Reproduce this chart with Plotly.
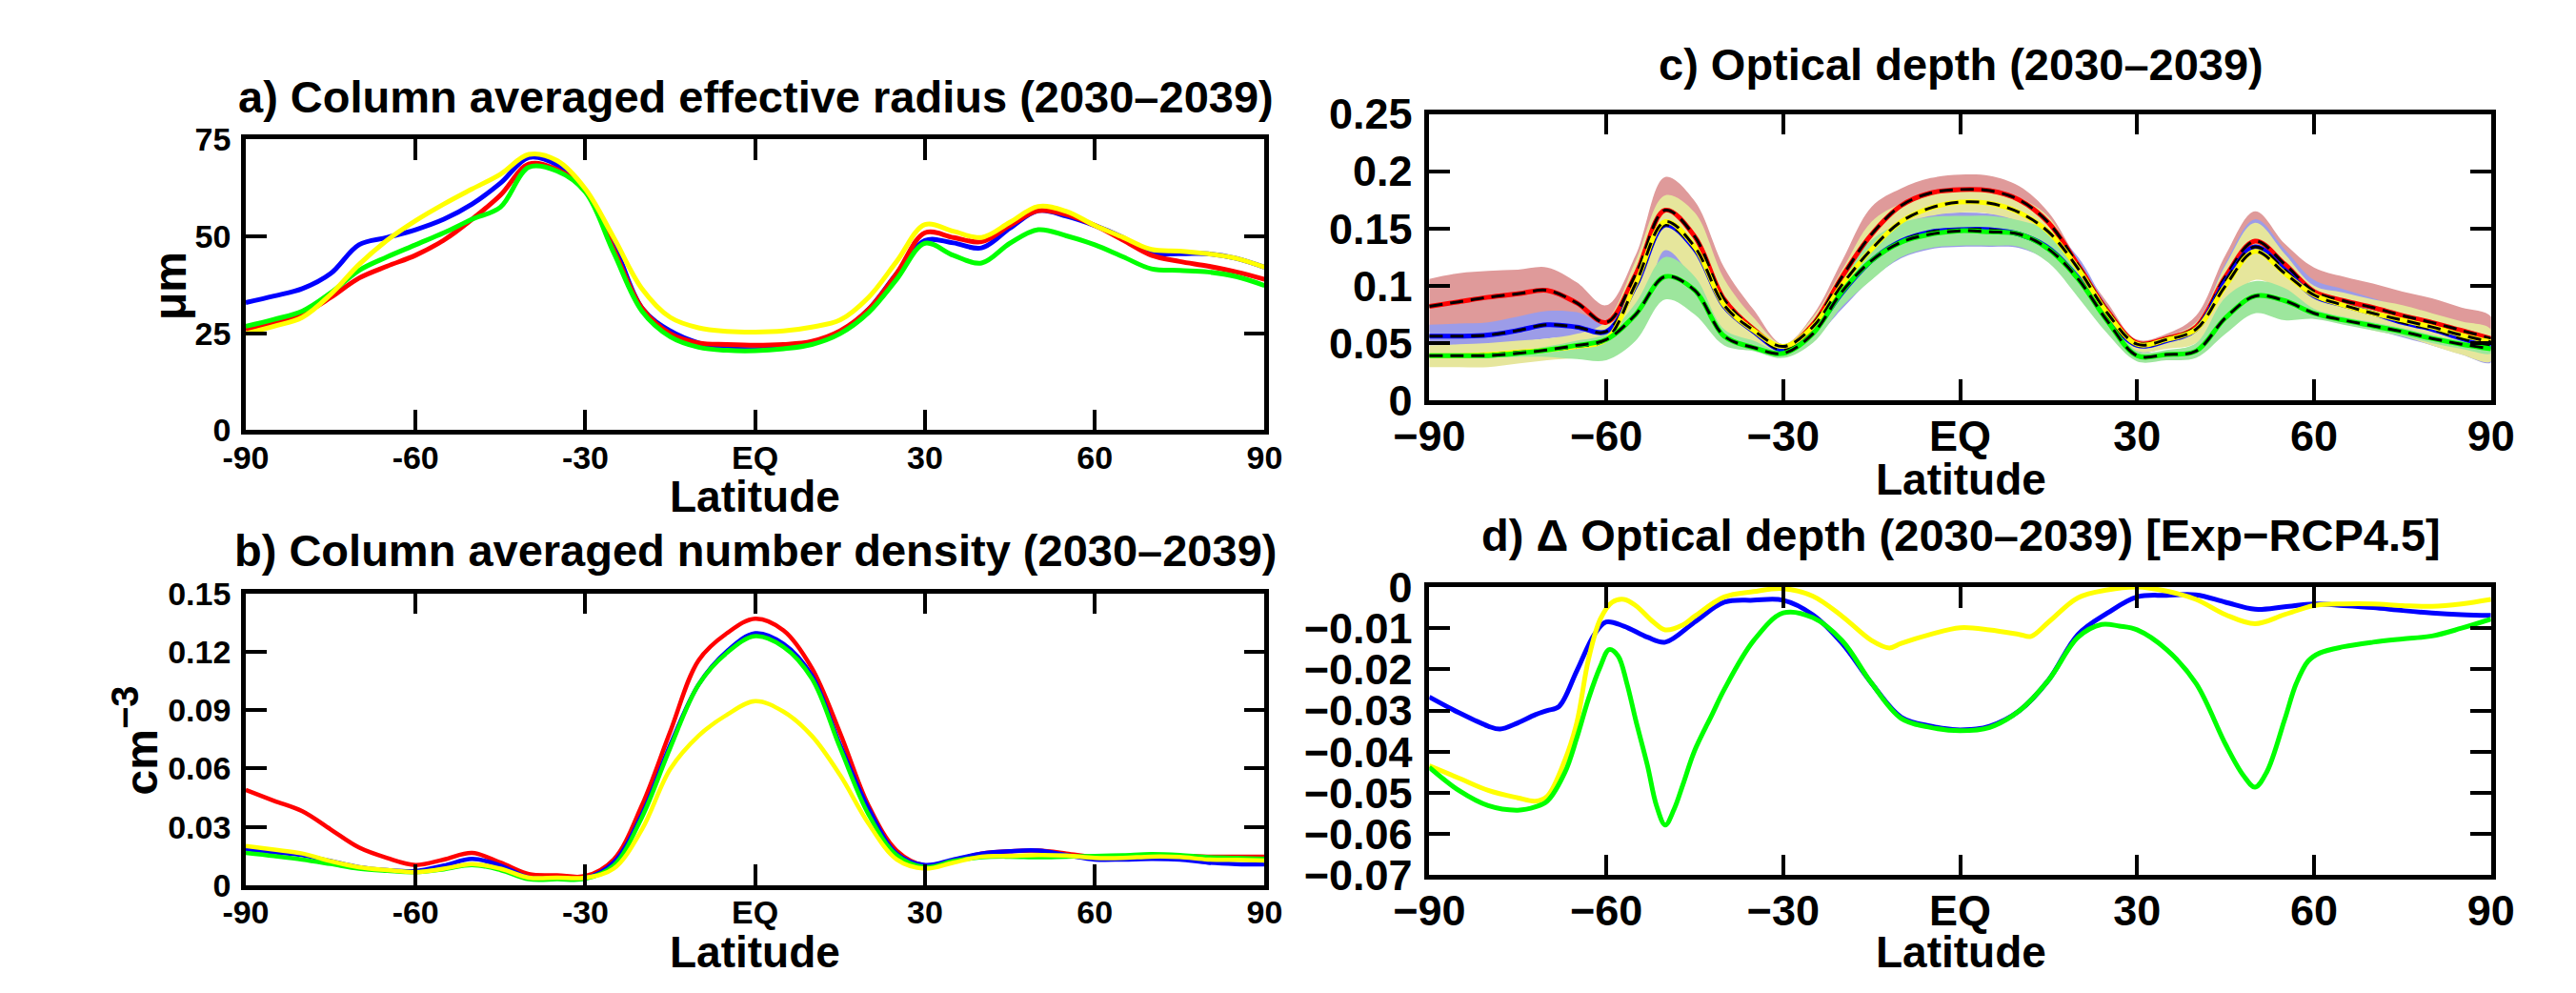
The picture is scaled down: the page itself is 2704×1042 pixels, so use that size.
import plotly.graph_objects as go

W, H = 2704, 1042
FONT = "Liberation Sans, Arial, Helvetica, sans-serif"

# ---------------- data ----------------
lat = [-90, -85, -80, -75, -70, -65, -60, -55, -50, -45, -40, -35, -30, -25, -20, -15, -10, -5, 0,
       5, 10, 15, 20, 25, 30, 35, 40, 45, 50, 55, 60, 65, 70, 75, 80, 85, 90]

xtick_vals = [-90, -60, -30, 0, 30, 60, 90]
xtick_text_ab = ["-90", "-60", "-30", "EQ", "30", "60", "90"]
xtick_text_cd = ["\u221290", "\u221260", "\u221230", "EQ", "30", "60", "90"]

# a) column averaged effective radius (um)
reff_blue = [32.9, 34.6, 36.5, 40.4, 47.8, 49.7, 51.7, 54.4, 58.3, 63.7, 70.3, 68.4, 61.8, 48.2, 31.5, 25.6, 22.5, 21.1, 20.8,
             21.4, 22.5, 25.3, 31.1, 40.4, 48.9, 48.3, 47.0, 52.1, 56.6, 55.2, 52.8, 49.7, 45.8, 45.5, 45.5, 44.3, 42.0]
reff_red = [26.0, 27.8, 29.9, 34.2, 39.2, 42.3, 45.1, 49.0, 54.4, 60.6, 68.6, 67.2, 61.8, 46.6, 31.5, 24.9, 22.5, 22.1, 21.9,
            22.1, 22.9, 25.6, 31.1, 40.4, 50.9, 49.7, 48.6, 52.8, 56.6, 55.6, 52.8, 49.0, 45.1, 43.5, 42.3, 40.8, 38.9]
reff_green = [26.8, 28.6, 30.7, 35.4, 41.2, 44.7, 47.8, 50.9, 54.4, 57.5, 67.8, 66.8, 61.4, 45.8, 30.7, 24.1, 21.4, 20.6, 20.5,
              21.0, 22.1, 24.9, 30.3, 38.9, 48.2, 45.1, 43.1, 48.2, 51.7, 50.1, 47.8, 44.7, 41.6, 41.2, 40.8, 39.6, 37.3]
reff_yellow = [24.9, 26.8, 29.1, 35.0, 42.7, 49.0, 54.0, 58.3, 62.2, 66.0, 71.1, 69.5, 62.2, 49.7, 36.5, 29.1, 26.4, 25.5, 25.3,
               25.6, 26.6, 28.4, 34.2, 43.5, 53.0, 51.3, 49.7, 53.6, 57.7, 56.4, 52.8, 49.7, 46.6, 46.2, 45.5, 44.3, 42.0]

# b) column averaged number density (cm^-3)
nd_red = [0.0490, 0.0434, 0.0380, 0.0287, 0.0194, 0.0140, 0.0104, 0.0132, 0.0166, 0.0116, 0.0057, 0.0051, 0.0047, 0.0132,
          0.0411, 0.0790, 0.1156, 0.1295, 0.1370, 0.1310, 0.1117, 0.0783, 0.0411, 0.0178, 0.0101, 0.0124, 0.0163, 0.0175,
          0.0178, 0.0163, 0.0144, 0.0147, 0.0150, 0.0150, 0.0147, 0.0147, 0.0147]
nd_blue = [0.0186, 0.0170, 0.0155, 0.0124, 0.0093, 0.0078, 0.0073, 0.0101, 0.0135, 0.0101, 0.0039, 0.0036, 0.0036, 0.0116,
           0.0365, 0.0721, 0.1031, 0.1202, 0.1295, 0.1241, 0.1078, 0.0721, 0.0396, 0.0163, 0.0104, 0.0132, 0.0163, 0.0175,
           0.0178, 0.0155, 0.0132, 0.0132, 0.0135, 0.0132, 0.0116, 0.0109, 0.0107]
nd_green = [0.0166, 0.0150, 0.0132, 0.0109, 0.0085, 0.0074, 0.0067, 0.0082, 0.0104, 0.0078, 0.0031, 0.0031, 0.0033, 0.0101,
            0.0349, 0.0706, 0.1031, 0.1194, 0.1280, 0.1225, 0.1063, 0.0706, 0.0365, 0.0155, 0.0093, 0.0124, 0.0144, 0.0147,
            0.0144, 0.0147, 0.0150, 0.0154, 0.0160, 0.0155, 0.0144, 0.0140, 0.0135]
nd_yellow = [0.0202, 0.0183, 0.0163, 0.0124, 0.0093, 0.0078, 0.0067, 0.0085, 0.0109, 0.0085, 0.0039, 0.0039, 0.0039, 0.0085,
             0.0287, 0.0597, 0.0768, 0.0876, 0.0946, 0.0892, 0.0768, 0.0566, 0.0318, 0.0132, 0.0085, 0.0116, 0.0147, 0.0150,
             0.0155, 0.0152, 0.0140, 0.0140, 0.0147, 0.0145, 0.0132, 0.0130, 0.0127]

# c) optical depth: means and spread bands
od_red = [0.082, 0.086, 0.090, 0.093, 0.096, 0.085, 0.068, 0.110, 0.166, 0.143, 0.088, 0.062, 0.046, 0.066, 0.108, 0.145,
          0.170, 0.181, 0.184, 0.183, 0.175, 0.155, 0.118, 0.078, 0.050, 0.054, 0.064, 0.108, 0.139, 0.119, 0.095, 0.087,
          0.081, 0.074, 0.068, 0.061, 0.054]
od_blue = [0.056, 0.056, 0.057, 0.061, 0.066, 0.064, 0.060, 0.100, 0.153, 0.132, 0.082, 0.060, 0.044, 0.060, 0.094, 0.122,
           0.139, 0.147, 0.149, 0.149, 0.145, 0.133, 0.107, 0.072, 0.048, 0.052, 0.062, 0.104, 0.134, 0.114, 0.091, 0.083,
           0.076, 0.068, 0.062, 0.054, 0.047]
od_yellow = [0.039, 0.039, 0.040, 0.042, 0.044, 0.047, 0.053, 0.102, 0.156, 0.134, 0.083, 0.061, 0.047, 0.064, 0.101, 0.132,
             0.156, 0.168, 0.173, 0.172, 0.164, 0.147, 0.115, 0.076, 0.049, 0.053, 0.062, 0.100, 0.130, 0.111, 0.092, 0.083,
             0.076, 0.070, 0.064, 0.057, 0.051]
od_green = [0.039, 0.039, 0.039, 0.041, 0.044, 0.048, 0.053, 0.075, 0.108, 0.096, 0.056, 0.046, 0.041, 0.058, 0.095, 0.122,
            0.138, 0.145, 0.148, 0.147, 0.145, 0.132, 0.106, 0.069, 0.039, 0.040, 0.043, 0.072, 0.091, 0.087, 0.076, 0.070,
            0.065, 0.060, 0.054, 0.049, 0.045]

od_red_hi = [0.106, 0.111, 0.113, 0.114, 0.116, 0.103, 0.083, 0.127, 0.195, 0.174, 0.116, 0.079, 0.049, 0.074, 0.122, 0.169,
             0.185, 0.194, 0.197, 0.196, 0.187, 0.164, 0.122, 0.085, 0.053, 0.058, 0.074, 0.127, 0.165, 0.137, 0.116, 0.108,
             0.102, 0.095, 0.089, 0.081, 0.073]
od_red_lo = [0.060, 0.063, 0.066, 0.070, 0.072, 0.068, 0.058, 0.085, 0.135, 0.115, 0.068, 0.050, 0.043, 0.058, 0.092, 0.125,
             0.150, 0.163, 0.166, 0.165, 0.160, 0.142, 0.108, 0.070, 0.046, 0.049, 0.056, 0.088, 0.112, 0.100, 0.080, 0.072,
             0.066, 0.060, 0.054, 0.048, 0.042]
od_blue_hi = [0.066, 0.067, 0.068, 0.073, 0.078, 0.077, 0.069, 0.112, 0.165, 0.148, 0.095, 0.068, 0.047, 0.068, 0.105, 0.138,
              0.155, 0.162, 0.164, 0.163, 0.160, 0.150, 0.125, 0.082, 0.052, 0.056, 0.068, 0.120, 0.158, 0.132, 0.105, 0.097,
              0.089, 0.081, 0.074, 0.067, 0.060]
od_blue_lo = [0.048, 0.048, 0.049, 0.051, 0.054, 0.055, 0.052, 0.078, 0.122, 0.108, 0.066, 0.050, 0.040, 0.053, 0.080, 0.106,
              0.124, 0.132, 0.134, 0.134, 0.133, 0.122, 0.100, 0.064, 0.042, 0.046, 0.054, 0.085, 0.110, 0.095, 0.078, 0.069,
              0.062, 0.055, 0.048, 0.040, 0.033]
od_yellow_hi = [0.048, 0.049, 0.050, 0.052, 0.054, 0.058, 0.069, 0.122, 0.179, 0.164, 0.106, 0.072, 0.049, 0.072, 0.114, 0.156,
                0.172, 0.182, 0.185, 0.184, 0.177, 0.160, 0.118, 0.078, 0.052, 0.056, 0.068, 0.118, 0.155, 0.128, 0.100, 0.094,
                0.088, 0.083, 0.076, 0.069, 0.062]
od_yellow_lo = [0.029, 0.029, 0.029, 0.032, 0.035, 0.037, 0.041, 0.053, 0.131, 0.103, 0.058, 0.048, 0.041, 0.058, 0.095, 0.132,
                0.153, 0.161, 0.164, 0.163, 0.156, 0.140, 0.106, 0.069, 0.043, 0.045, 0.050, 0.082, 0.105, 0.095, 0.079, 0.069,
                0.061, 0.056, 0.048, 0.040, 0.034]
od_green_hi = [0.041, 0.041, 0.041, 0.043, 0.047, 0.052, 0.058, 0.085, 0.125, 0.108, 0.062, 0.052, 0.043, 0.068, 0.110, 0.140,
               0.155, 0.160, 0.161, 0.161, 0.157, 0.148, 0.120, 0.078, 0.043, 0.044, 0.050, 0.090, 0.104, 0.098, 0.080, 0.073,
               0.068, 0.063, 0.057, 0.052, 0.048]
od_green_lo = [0.037, 0.037, 0.037, 0.038, 0.038, 0.036, 0.035, 0.052, 0.088, 0.075, 0.048, 0.043, 0.037, 0.050, 0.082, 0.105,
               0.125, 0.133, 0.135, 0.135, 0.134, 0.120, 0.090, 0.058, 0.034, 0.035, 0.037, 0.058, 0.076, 0.070, 0.071, 0.066,
               0.061, 0.056, 0.050, 0.045, 0.041]

# d) delta optical depth (Exp - RCP4.5)
dlat_blue = [-90, -85, -80, -78, -75, -72, -70, -68, -65, -62, -60, -57, -53, -50, -45, -40, -35, -30, -25, -20, -15, -10,
             -5, 0, 5, 10, 15, 20, 25, 30, 35, 40, 45, 50, 55, 60, 65, 70, 75, 80, 85, 90]
dod_blue = [-0.0267, -0.0305, -0.0338, -0.0345, -0.0330, -0.0310, -0.0300, -0.0290, -0.0204, -0.0115, -0.0085, -0.0095,
            -0.0122, -0.0134, -0.0085, -0.0037, -0.0032, -0.0032, -0.0067, -0.0137, -0.0234, -0.0316, -0.0338, -0.0347,
            -0.0338, -0.0301, -0.0226, -0.0115, -0.0063, -0.0024, -0.0020, -0.0019, -0.0037, -0.0054, -0.0048, -0.0041,
            -0.0045, -0.0050, -0.0057, -0.0063, -0.0067, -0.0069]
dlat_yellow = [-90, -85, -80, -75, -72, -70, -67, -65, -63, -61, -59, -57, -55, -52, -50, -47, -45, -40, -35, -30, -25, -20,
               -15, -12, -10, -5, 0, 5, 10, 12, 15, 20, 25, 30, 35, 40, 45, 50, 55, 60, 65, 70, 75, 80, 85, 90]
dod_yellow = [-0.0434, -0.0464, -0.0494, -0.0512, -0.0520, -0.0508, -0.0420, -0.0330, -0.0175, -0.0078, -0.0037, -0.0030,
              -0.0045, -0.0085, -0.0104, -0.0092, -0.0071, -0.0024, -0.0011, -0.0004, -0.0022, -0.0071, -0.0130, -0.0148,
              -0.0137, -0.0115, -0.0099, -0.0104, -0.0115, -0.0120, -0.0085, -0.0026, -0.0007, 0.0000, -0.0010, -0.0030,
              -0.0067, -0.0089, -0.0067, -0.0045, -0.0041, -0.0041, -0.0045, -0.0047, -0.0041, -0.0030]
dlat_green = [-90, -85, -80, -75, -72, -70, -67, -65, -63, -61, -59.5, -58, -56.5, -55, -53, -51.5, -50, -48.5, -47, -45,
              -42, -40, -35, -30, -25, -20, -15, -10, -5, 0, 5, 10, 15, 20, 24, 27, 30, 35, 40, 45, 48, 50, 52, 55, 57, 59,
              61, 65, 70, 75, 80, 85, 90]
dod_green = [-0.0438, -0.0494, -0.0531, -0.0542, -0.0534, -0.0520, -0.0450, -0.0367, -0.0271, -0.0193, -0.0152, -0.0167,
             -0.0234, -0.0323, -0.0434, -0.0530, -0.0578, -0.0540, -0.0480, -0.0397, -0.0308, -0.0249, -0.0130, -0.0063,
             -0.0074, -0.0130, -0.0234, -0.0319, -0.0341, -0.0349, -0.0341, -0.0301, -0.0226, -0.0122, -0.0091, -0.0095,
             -0.0104, -0.0152, -0.0234, -0.0382, -0.0457, -0.0486, -0.0449, -0.0323, -0.0234, -0.0180, -0.0160, -0.0145,
             -0.0134, -0.0126, -0.0119, -0.0100, -0.0078]

# ---------------- styling ----------------
RED, BLUE, GREEN, YELLOW = "#ff0000", "#0000ff", "#00ff00", "#ffff00"
BAND = {"red": "#df9a9a", "blue": "#9c9ce8", "yellow": "#e6e69c", "green": "#9de69d"}


def dom_x(left, right):
    return [left / W, right / W]


def dom_y(top, bottom):
    return [1 - bottom / H, 1 - top / H]


fig = go.Figure()


def line(x, y, color, ax, width=5, dash=None):
    fig.add_trace(go.Scatter(x=x, y=y, mode="lines", xaxis=ax[0], yaxis=ax[1], hoverinfo="skip",
                             line=dict(color=color, width=width, shape="spline", smoothing=1.0,
                                       dash=dash), showlegend=False))


def band(x, hi, lo, color, ax):
    fig.add_trace(go.Scatter(x=list(x) + list(x)[::-1], y=list(hi) + list(lo)[::-1], mode="lines",
                             xaxis=ax[0], yaxis=ax[1], fill="toself", fillcolor=color, hoverinfo="skip",
                             line=dict(width=0, color=color, shape="spline", smoothing=1.0), showlegend=False))


A = ("x", "y")
B = ("x2", "y2")
C = ("x3", "y3")
D = ("x4", "y4")

# panel a
for ys, col in [(reff_blue, BLUE), (reff_red, RED), (reff_green, GREEN), (reff_yellow, YELLOW)]:
    line(lat, ys, col, A)
# panel b
for ys, col in [(nd_red, RED), (nd_blue, BLUE), (nd_green, GREEN), (nd_yellow, YELLOW)]:
    line(lat, ys, col, B, width=4.5)
# panel c
band(lat, od_red_hi, od_red_lo, BAND["red"], C)
band(lat, od_blue_hi, od_blue_lo, BAND["blue"], C)
band(lat, od_yellow_hi, od_yellow_lo, BAND["yellow"], C)
band(lat, od_green_hi, od_green_lo, BAND["green"], C)
for ys, col in [(od_red, RED), (od_blue, BLUE), (od_yellow, YELLOW), (od_green, GREEN)]:
    line(lat, ys, col, C, width=5)
    line(lat, ys, "black", C, width=3, dash="14px,8px")
# panel d
line(dlat_blue, dod_blue, BLUE, D)
line(dlat_yellow, dod_yellow, YELLOW, D)
line(dlat_green, dod_green, GREEN, D)


def axis_style(size):
    return dict(showline=True, linecolor="black", linewidth=4.5, mirror="ticks", ticks="inside",
                ticklen=22, tickwidth=4, tickcolor="black", showgrid=False, zeroline=False,
                tickfont=dict(family=FONT, size=size, color="black", weight="bold"), fixedrange=True)


ab_x = dom_x(217, 1312)
cd_x = dom_x(1489, 2630)

layout = dict(
    width=W, height=H, paper_bgcolor="white", plot_bgcolor="white",
    margin=dict(l=0, r=0, t=0, b=0), showlegend=False,
    xaxis=dict(domain=ab_x, anchor="y", range=[-90, 90], tickvals=xtick_vals, ticktext=xtick_text_ab,
               ticklabelstandoff=-5, **axis_style(34)),
    yaxis=dict(domain=dom_y(119, 440), anchor="x", range=[0, 75], tickvals=[0, 25, 50, 75],
               ticktext=["0", "25", "50", "75"], ticklabelstandoff=4, **axis_style(34)),
    xaxis2=dict(domain=ab_x, anchor="y2", range=[-90, 90], tickvals=xtick_vals, ticktext=xtick_text_ab,
                ticklabelstandoff=-5, **axis_style(34)),
    yaxis2=dict(domain=dom_y(620, 942), anchor="x2", range=[0, 0.15],
                tickvals=[0, 0.03, 0.06, 0.09, 0.12, 0.15],
                ticktext=["0", "0.03", "0.06", "0.09", "0.12", "0.15"], ticklabelstandoff=4, **axis_style(34)),
    xaxis3=dict(domain=cd_x, anchor="y3", range=[-90, 90], tickvals=xtick_vals, ticktext=xtick_text_cd,
                ticklabelstandoff=-6, **axis_style(45)),
    yaxis3=dict(domain=dom_y(91, 407), anchor="x3", range=[0, 0.25],
                tickvals=[0, 0.05, 0.1, 0.15, 0.2, 0.25],
                ticktext=["0", "0.05", "0.1", "0.15", "0.2", "0.25"], ticklabelstandoff=4, **axis_style(45)),
    xaxis4=dict(domain=cd_x, anchor="y4", range=[-90, 90], tickvals=xtick_vals, ticktext=xtick_text_cd,
                ticklabelstandoff=-6, **axis_style(45)),
    yaxis4=dict(domain=dom_y(613, 931), anchor="x4", range=[-0.07, 0],
                tickvals=[0, -0.01, -0.02, -0.03, -0.04, -0.05, -0.06, -0.07],
                ticktext=["0", "\u22120.01", "\u22120.02", "\u22120.03", "\u22120.04", "\u22120.05",
                          "\u22120.06", "\u22120.07"], ticklabelstandoff=4, **axis_style(45)),
)
fig.update_layout(**layout)


def ann(text, xc, yc, size, angle=0):
    fig.add_annotation(text=text, x=xc / W, y=1 - yc / H, xref="paper", yref="paper",
                       xanchor="center", yanchor="middle", showarrow=False, textangle=angle,
                       font=dict(family=FONT, size=size, color="black", weight="bold"))


TS = 47
ann("a) Column averaged effective radius (2030\u20132039)", 765, 72, TS)
ann("b) Column averaged number density (2030\u20132039)", 765, 572, TS)
ann("c) Optical depth (2030\u20132039)", 2060, 36, TS)
ann("d) \u0394 Optical depth (2030\u20132039) [Exp\u2212RCP4.5]", 2060, 556, TS)
ann("Latitude", 764, 513, 46)
ann("Latitude", 764, 1016, 46)
ann("Latitude", 2060, 494, 46)
ann("Latitude", 2060, 1016, 46)
ann("\u03bcm", 135, 281, 48, -90)
ann("cm<sup><span style='font-size:40px'>\u22123</span></sup>", 98, 782, 48, -90)

fig.write_html("out.html", config={"displayModeBar": False})
